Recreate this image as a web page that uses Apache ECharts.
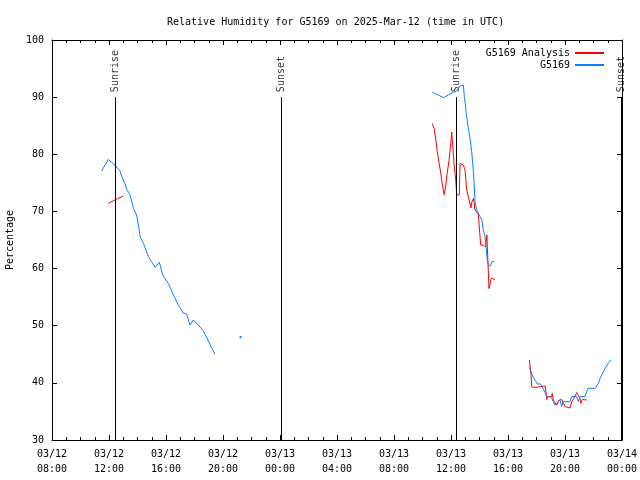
<!DOCTYPE html>
<html><head><meta charset="utf-8">
<script src="https://cdn.jsdelivr.net/npm/echarts@6/dist/echarts.min.js"></script>
<style>html,body{margin:0;padding:0;background:#fff}#c{width:640px;height:480px}</style>
</head><body><div id="c"></div>
<script>
const titleText = 'Relative Humidity for G5169 on 2025-Mar-12 (time in UTC)';
const yName = 'Percentage';
const seriesNames = ['G5169 Analysis', 'G5169'];

const redTimes = ['03/12 11:57','03/12 12:25','03/12 13:00','03/12 14:00',
 '03/13 10:41','03/13 10:49','03/13 10:56','03/13 11:02','03/13 11:10','03/13 11:17','03/13 11:23','03/13 11:31',
 '03/13 11:38','03/13 11:44','03/13 11:52','03/13 11:59','03/13 12:03','03/13 12:10','03/13 12:14','03/13 12:20',
 '03/13 12:24','03/13 12:35','03/13 12:38','03/13 12:52','03/13 12:59','03/13 13:06','03/13 13:13','03/13 13:20',
 '03/13 13:24','03/13 13:28','03/13 13:35','03/13 13:41','03/13 13:49','03/13 13:55','03/13 14:05','03/13 14:16',
 '03/13 14:20','03/13 14:26','03/13 14:31','03/13 14:38','03/13 14:40','03/13 14:47','03/13 14:50','03/13 15:05',
 '03/13 16:00',
 '03/13 17:30','03/13 17:35','03/13 17:37','03/13 17:40','03/13 17:53','03/13 18:01','03/13 18:36','03/13 18:40',
 '03/13 18:43','03/13 18:50','03/13 19:04','03/13 19:06','03/13 19:11','03/13 19:25','03/13 19:32','03/13 19:36',
 '03/13 19:46','03/13 19:53','03/13 20:00','03/13 20:07','03/13 20:21','03/13 20:28','03/13 20:42','03/13 20:49',
 '03/13 20:56','03/13 21:03','03/13 21:06','03/13 21:13','03/13 21:21','03/13 21:31'];
const redValues = [71.4,72.0,72.7,null,
 85.4,84.5,82.5,80.5,78.4,76.7,74.9,72.9,
 74.6,76.7,79.0,81.9,83.9,83.9,77.8,75.5,
 72.9,72.9,78.4,78.1,77.3,73.8,72.6,72.6,
 70.6,71.7,72.3,70.3,70.3,69.5,64.1,64.1,
 64.4,63.8,65.9,65.9,56.5,56.5,58.3,58.1,
 null,
 44.0,44.0,41.5,39.3,39.2,39.45,39.45,38.45,
 37.1,37.6,37.6,38.2,37.0,36.1,36.4,37.0,
 37.1,37.0,35.85,35.6,35.6,36.7,37.6,38.3,
 38.2,37.3,36.4,37.1,37.0,37.0];

const blueTimes = ['03/12 11:29','03/12 11:57','03/12 12:25','03/12 12:46','03/12 12:53','03/12 13:00','03/12 13:07','03/12 13:14',
 '03/12 13:28','03/12 13:43','03/12 13:56','03/12 14:04','03/12 14:11','03/12 14:25','03/12 14:46','03/12 14:59',
 '03/12 15:14','03/12 15:32','03/12 15:46','03/12 16:10','03/12 16:31','03/12 16:52','03/12 17:13','03/12 17:27',
 '03/12 17:41','03/12 17:55','03/12 18:16','03/12 18:37','03/12 19:26',
 '03/12 20:20','03/12 21:14','03/13 00:00',
 '03/13 10:41','03/13 11:06','03/13 11:28','03/13 11:49','03/13 12:10','03/13 12:24','03/13 12:38','03/13 12:52',
 '03/13 12:56','03/13 13:00','03/13 13:04','03/13 13:12','03/13 13:20','03/13 13:27','03/13 13:34','03/13 13:38',
 '03/13 13:42','03/13 13:49','03/13 13:55','03/13 14:02','03/13 14:10','03/13 14:16','03/13 14:23','03/13 14:28',
 '03/13 14:33','03/13 14:37','03/13 14:47','03/13 14:52','03/13 15:03',
 '03/13 16:00',
 '03/13 17:30','03/13 17:37','03/13 17:42','03/13 17:49','03/13 17:58','03/13 18:03','03/13 18:17','03/13 18:22',
 '03/13 18:29','03/13 18:36','03/13 18:43','03/13 18:54','03/13 19:04','03/13 19:11','03/13 19:18','03/13 19:25',
 '03/13 19:32','03/13 19:39','03/13 19:46','03/13 19:53','03/13 20:21','03/13 20:28','03/13 20:49','03/13 20:56',
 '03/13 21:03','03/13 21:24','03/13 21:31','03/13 21:38','03/13 22:07','03/13 22:20','03/13 22:28','03/13 22:35',
 '03/13 22:49','03/13 23:02','03/13 23:13'];
const blueValues = [77.1,79.1,78.1,77.1,76.2,76.1,74.9,73.9,
 73.0,70.5,69.4,67.6,65.6,64.4,62.1,61.2,
 60.2,61.1,58.9,57.4,55.4,53.6,52.2,52.0,
 50.1,51.0,50.1,49.1,45.0,
 null,48.0,null,
 90.85,90.4,89.9,90.4,90.85,91.1,91.95,92.1,
 90.1,88.9,87.2,84.8,82.8,80.5,77.2,74.3,
 71.4,70.2,69.9,69.1,68.5,66.8,65.6,63.5,
 61.5,60.5,60.5,61.2,61.3,
 null,
 42.7,42.7,41.4,40.8,40.2,39.8,39.8,39.45,
 38.9,38.3,37.6,37.6,37.3,36.7,36.1,36.5,
 36.5,37.0,35.85,36.7,36.7,37.6,37.6,36.7,
 37.6,37.6,38.45,39.05,39.05,39.9,40.8,41.4,
 42.55,43.4,44.0];

const sunTimes = ['03/12 12:25','03/13 00:04','03/13 12:21','03/13 23:57'];
const sunLabels = ['Sunrise','Sunset','Sunrise','Sunset'];
const sunLineTop = 90;

const xStart = '03/12 08:00', xEnd = '03/14 00:00';
const yMin = 30, yMax = 100, yStep = 10;

function toMs(s){
  const m = s.match(/(\d+)\/(\d+) (\d+):(\d+)/);
  return Date.UTC(2025, +m[1]-1, +m[2], +m[3], +m[4]);
}
function pad(n){return (n<10?'0':'')+n;}
function fmt(v){
  const d = new Date(v);
  return pad(d.getUTCMonth()+1)+'/'+pad(d.getUTCDate())+'\n'+pad(d.getUTCHours())+':'+pad(d.getUTCMinutes());
}
const H = 3600000;
const font = 'DejaVu Sans Mono';
const blueColor = '#0a80ff';
const redData = redTimes.map((t,i)=>[toMs(t), redValues[i]]);
const blueData = blueTimes.map((t,i)=>{
  const prev = blueValues[i-1], next = blueValues[i+1], v = blueValues[i];
  if (v !== null && prev === null && next === null) {
    return {value:[toMs(t), v], symbol:'rect', symbolSize:2, itemStyle:{color:blueColor}};
  }
  return [toMs(t), v];
});

const axisCommon = {
  type:'value', min: toMs(xStart), max: toMs(xEnd), interval: 4*H,
  axisLine:{show:true, onZero:false, lineStyle:{color:'#000', width:1}},
  axisTick:{show:true, inside:true, length:5, lineStyle:{color:'#000'}},
  minorTick:{show:true, splitNumber:4, length:3, lineStyle:{color:'#000'}},
  splitLine:{show:false}
};
const yCommon = {
  type:'value', min:yMin, max:yMax, interval:yStep,
  axisLine:{show:true, onZero:false, lineStyle:{color:'#000', width:1}},
  axisTick:{show:true, inside:true, length:5, lineStyle:{color:'#000'}},
  splitLine:{show:false}
};

const chart = echarts.init(document.getElementById('c'), null, {renderer:'canvas'});
chart.setOption({
  backgroundColor:'#fff',
  animation:false,
  title:{text:titleText, left:162, top:12, textStyle:{fontFamily:font, fontSize:10, fontWeight:'normal', color:'#000'}},
  legend:{
    data:seriesNames, orient:'vertical', right:30, top:43, align:'right',
    itemWidth:29, itemHeight:12, itemGap:2,
    itemStyle:{opacity:0, borderWidth:0},
    textStyle:{fontFamily:font, fontSize:10, color:'#000'}
  },
  grid:{left:52, right:18, top:40, bottom:40, containLabel:false, outerBoundsMode:'none'},
  xAxis:[
    Object.assign({}, axisCommon, {position:'bottom',
      axisLabel:{show:true, formatter:fmt, fontFamily:font, fontSize:10, color:'#000', lineHeight:15, margin:7, showMinLabel:true, showMaxLabel:true}}),
    Object.assign({}, axisCommon, {position:'top', axisLabel:{show:false}})
  ],
  yAxis:[
    Object.assign({}, yCommon, {position:'left', name:yName, nameLocation:'middle', nameRotate:90, nameGap:37,
      nameTextStyle:{fontFamily:font, fontSize:10, color:'#000'},
      axisLabel:{fontFamily:font, fontSize:10, color:'#000', margin:8}}),
    Object.assign({}, yCommon, {position:'right', axisLabel:{show:false}})
  ],
  series:[
    {
      name:'sun', type:'scatter', symbolSize:0, silent:true, z:1,
      data: sunTimes.map((t,i)=>({value:[toMs(t), sunLineTop], name:sunLabels[i]})),
      label:{show:true, position:'top', distance:5, rotate:90, align:'left', verticalAlign:'middle',
        formatter:p=>p.name, fontFamily:font, fontSize:10, color:'#000'},
      markLine:{
        silent:true, symbol:['none','none'], animation:false,
        lineStyle:{color:'#000', width:1, type:'solid'},
        label:{show:false},
        data: sunTimes.map(t=>[{coord:[toMs(t), yMin]}, {coord:[toMs(t), sunLineTop]}])
      }
    },
    {
      name:seriesNames[0], type:'line', data:redData, symbol:'none', connectNulls:false,
      lineStyle:{color:'#ff0000', width:1}, itemStyle:{color:'#ff0000'}, z:3
    },
    {
      name:seriesNames[1], type:'line', data:blueData, symbol:'none', showSymbol:true, connectNulls:false,
      lineStyle:{color:blueColor, width:1}, itemStyle:{color:blueColor}, z:4
    }
  ]
});
</script></body></html>
